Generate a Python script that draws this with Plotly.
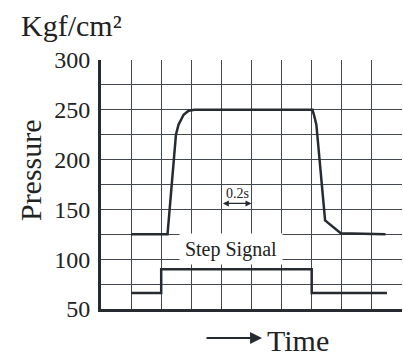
import plotly.graph_objects as go

# Data (time in seconds, pressure in Kgf/cm²)
pressure_t = [0.2, 0.442, 0.498, 0.515, 0.549, 0.582, 0.622, 1.405, 1.415, 1.431, 1.489, 1.593, 1.89]
pressure_v = [125, 125, 225, 235, 245, 249, 250, 250, 245, 235, 139, 126, 125]

step_t = [0.2, 0.4, 0.4, 1.4, 1.4, 1.9]
step_v = [66, 66, 90, 90, 66, 66]

y_ticks = [50, 75, 100, 125, 150, 175, 200, 225, 250, 275, 300]
y_tick_labels = ["50", "", "100", "", "150", "", "200", "", "250", "", "300"]

INK = "#262a31"
GRID = "#43474e"
FONT = "Liberation Serif"

fig = go.Figure()
fig.add_trace(go.Scatter(x=pressure_t, y=pressure_v, mode="lines",
                         line=dict(color=INK, width=2.5), hoverinfo="skip"))
fig.add_trace(go.Scatter(x=step_t, y=step_v, mode="lines",
                         line=dict(color=INK, width=2.5), hoverinfo="skip"))

annotations = [
    dict(text="Kgf/cm²", xref="paper", yref="paper", x=-0.2724, y=1.14,
         xanchor="left", yanchor="middle", showarrow=False,
         font=dict(family=FONT, size=30, color="#222")),
    dict(text="Pressure", xref="paper", yref="paper", x=-0.2359, y=0.558,
         xanchor="center", yanchor="middle", showarrow=False, textangle=-90,
         font=dict(family=FONT, size=30, color="#222")),
    dict(text="Time", xref="paper", yref="paper", x=0.654, y=-0.125,
         xanchor="center", yanchor="middle", showarrow=False,
         font=dict(family=FONT, size=30, color="#222")),
    dict(text="", xref="paper", yref="paper", x=0.535, y=-0.1165,
         axref="pixel", ayref="pixel", ax=-57, ay=0, showarrow=True,
         arrowhead=2, arrowsize=1.2, arrowwidth=2, arrowcolor=INK, standoff=0),
    dict(text="Step Signal", xref="x", yref="y", x=0.867, y=110,
         xanchor="center", yanchor="middle", showarrow=False,
         width=102, height=30, borderpad=0, bgcolor="white",
         font=dict(family=FONT, size=20, color="#222")),
    dict(text="0.2s", xref="x", yref="y", x=0.905, y=165.5,
         xanchor="center", yanchor="middle", showarrow=False,
         font=dict(family=FONT, size=14, color="#222")),
    dict(text="", xref="x", yref="y", x=1.0, y=156, axref="x", ayref="y",
         ax=0.8, ay=156, showarrow=True, arrowside="end+start",
         arrowhead=2, startarrowhead=2, arrowsize=1, startarrowsize=1,
         arrowwidth=1.2, arrowcolor=INK, standoff=0, startstandoff=0),
]

fig.update_layout(
    width=403, height=356,
    margin=dict(l=101, r=1, t=60, b=47),
    paper_bgcolor="white", plot_bgcolor="white",
    showlegend=False,
    annotations=annotations,
    xaxis=dict(range=[0, 2.0], dtick=0.2, tick0=0, showgrid=True,
               gridcolor=GRID, gridwidth=1, showticklabels=False, ticks="",
               zeroline=False, showline=True, linecolor=INK, linewidth=2.5,
               fixedrange=True),
    yaxis=dict(range=[50, 300], tickmode="array", tickvals=y_ticks,
               ticktext=y_tick_labels, showgrid=True, gridcolor=GRID,
               gridwidth=1, ticks="", zeroline=False, showline=True,
               linecolor=INK, linewidth=3, ticklabelstandoff=3,
               tickfont=dict(family=FONT, size=24, color="#222"),
               fixedrange=True),
)

fig.write_html("out.html", config={"displayModeBar": False},
               post_script="document.body.style.margin='0';document.body.style.overflow='hidden';")
